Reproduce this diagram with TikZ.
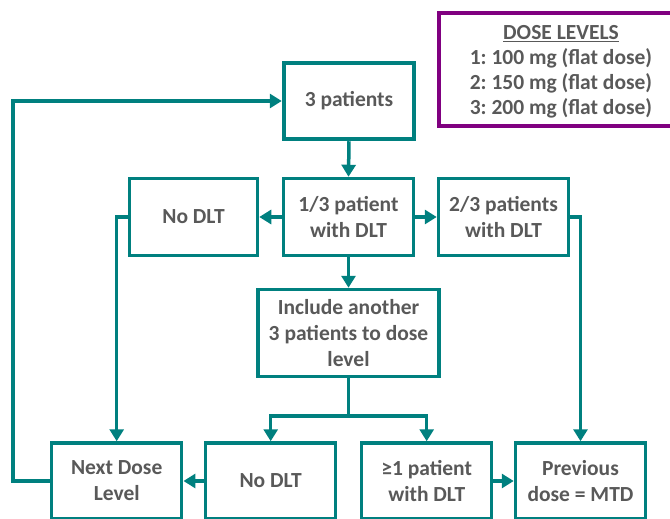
\documentclass[tikz,border=0pt]{standalone}
\usepackage{fontspec}
\setmainfont{Carlito}
\usetikzlibrary{arrows.meta}
\definecolor{tealc}{HTML}{00807F}
\definecolor{purp}{HTML}{800080}
\definecolor{txtc}{HTML}{595959}
\frenchspacing
\begin{document}
\begin{tikzpicture}[x=1pt,y=-1pt,
  box/.style={draw=tealc, line width=3.5pt, fill=white, text=txtc,
    font=\fontsize{21.5}{26}\selectfont\bfseries, align=center, inner sep=0pt,
    minimum width=130pt, minimum height=77pt},
  link/.style={draw=tealc, line width=3.5pt},
  conn/.style={link, -{Triangle[length=12pt,width=14pt]}}]
\useasboundingbox (0,0) rectangle (670,519);
\clip (0,0) rectangle (670,519);
% dose levels box
\node[draw=purp, line width=4pt, minimum width=233pt, minimum height=113pt, inner sep=0pt] (dose) at (555.5,69.5) {};
\node[text=txtc, font=\fontsize{21.5}{25}\selectfont\bfseries, align=center, inner sep=0pt] (dosetext) at (561,71.5)
  {\underline{DOSE LEVELS}\\1: 100 mg (flat dose)\\2: 150 mg (flat dose)\\3: 200 mg (flat dose)};
% boxes
\node[box, line width=4.5pt, minimum height=76pt] (p3) at (349,101) {3 patients};
\node[box, minimum width=128pt] (nodlt1) at (193.5,217) {No DLT};
\node[box] (p13) at (348.5,217) {1/3 patient\\with DLT};
\node[box] (p23) at (503.5,217) {2/3 patients\\with DLT};
\node[box, minimum width=181pt, minimum height=87pt] (incl) at (348.5,333) {Include another\\3 patients to dose\\level};
\node[box, minimum height=76pt] (next) at (116.7,481) {Next Dose\\Level};
\node[box, minimum height=76pt] (nodlt2) at (270.7,481) {No DLT};
\node[box, minimum height=76pt] (ge1) at (426.7,481) {≥1 patient\\with DLT};
\node[box, minimum height=76pt] (prev) at (580.5,481) {Previous\\dose = MTD};
% connectors
\coordinate (lp) at (13,101);
\coordinate (br) at (348.5,416);
\draw[conn] (p3.south) -- (p13.north);
\draw[conn] (p13.west) -- (nodlt1.east);
\draw[conn] (p13.east) -- (p23.west);
\draw[conn] (p13.south) -- (incl.north);
\draw[conn] (nodlt1.west) -| (next.north);
\draw[conn] (p23.east) -| (prev.north);
\draw[link] (incl.south) -- (br);
\draw[conn] (br) -| (nodlt2.north);
\draw[conn] (br) -| (ge1.north);
\draw[conn] (nodlt2.west) -- (next.east);
\draw[conn] (ge1.east) -- (prev.west);
\draw[conn] (next.west) -- (next.west -| lp) |- (p3.west);
\end{tikzpicture}
\end{document}
